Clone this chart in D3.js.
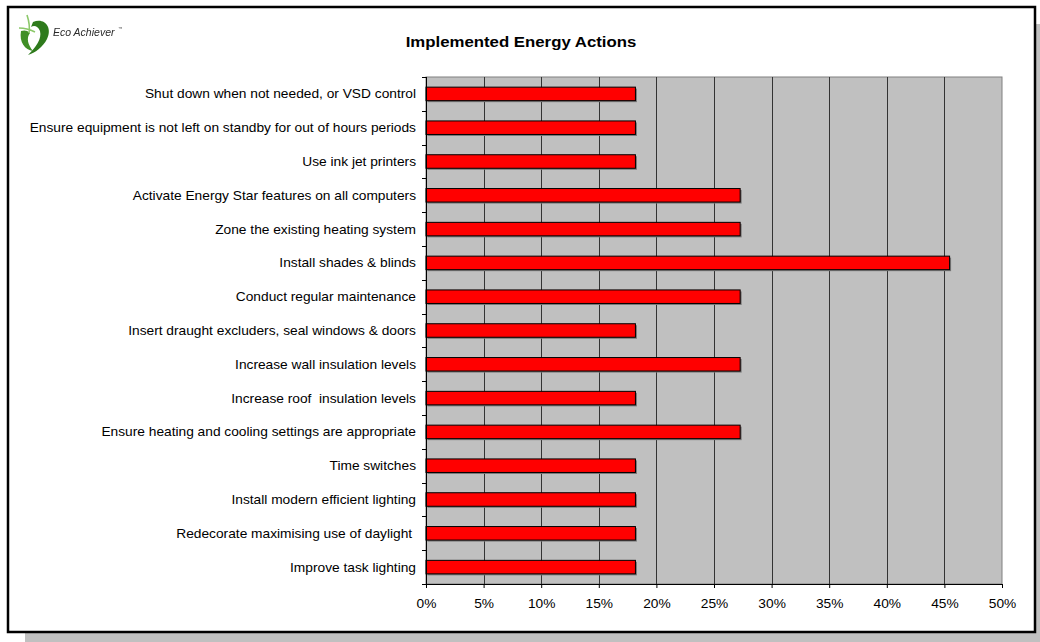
<!DOCTYPE html>
<html>
<head>
<meta charset="utf-8">
<script src="https://cdn.jsdelivr.net/npm/d3@7"></script>
<style>
  html, body { margin: 0; padding: 0; background: #fff; }
  svg { display: block; font-family: Arial, "Liberation Sans", sans-serif; }
</style>
</head>
<body>
<svg id="chart" width="1040" height="642"></svg>
<script>
// Share of sites that implemented each energy action (top to bottom)
const actions = [
  "Shut down when not needed, or VSD control",
  "Ensure equipment is not left on standby for out of hours periods",
  "Use ink jet printers",
  "Activate Energy Star features on all computers",
  "Zone the existing heating system",
  "Install shades & blinds",
  "Conduct regular maintenance",
  "Insert draught excluders, seal windows & doors",
  "Increase wall insulation levels",
  "Increase roof  insulation levels",
  "Ensure heating and cooling settings are appropriate",
  "Time switches",
  "Install modern efficient lighting",
  "Redecorate maximising use of daylight ",
  "Improve task lighting"
];
const shares = [
  0.1818, 0.1818, 0.1818, 0.2727, 0.2727, 0.4545, 0.2727, 0.1818,
  0.2727, 0.1818, 0.2727, 0.1818, 0.1818, 0.1818, 0.1818
];
const xTicks = [0, 0.05, 0.10, 0.15, 0.20, 0.25, 0.30, 0.35, 0.40, 0.45, 0.50];
const title = "Implemented Energy Actions";

const svg = d3.select("#chart");
const defs = svg.append("defs");
defs.append("filter").attr("id", "soft")
  .append("feGaussianBlur").attr("stdDeviation", 0.6);

// Card shadow and frame
svg.append("rect").attr("x", 25).attr("y", 24).attr("width", 1015).attr("height", 618).attr("fill", "#c0c0c0");
svg.append("rect").attr("x", 8).attr("y", 7).attr("width", 1027).attr("height", 625)
  .attr("fill", "#fff").attr("stroke", "#000").attr("stroke-width", 2.5);

// Logo: leaf swirl mark and wordmark
const logo = svg.append("g").attr("filter", "url(#soft)");
logo.append("path")
  .attr("d", "M33,22 C44,17 53,27 47,39 C43,47 35,53 28,55 C36,47 42,39 40,31 C38,26 34,25 31,27 Z")
  .attr("fill", "#2e7a1c");
logo.append("path")
  .attr("d", "M21,31 C19,42 25,50 33,51 C28,45 26,38 30,33 C27,30 24,30 21,31 Z")
  .attr("fill", "#3f8f25");
logo.append("path")
  .attr("d", "M27,15 C29,21 30,27 29,33 M19,28 C25,28 31,30 35,32")
  .attr("fill", "none").attr("stroke", "#8cc86a").attr("stroke-width", 1.6);
logo.append("text").attr("x", 53).attr("y", 36)
  .attr("font-size", 10.5).attr("font-style", "italic").attr("fill", "#2a2a2a")
  .text("Eco Achiever");
logo.append("text").attr("x", 118).attr("y", 30)
  .attr("font-size", 4.5).attr("fill", "#555").text("™");

// Title
svg.append("g").attr("transform", "translate(521,47) scale(1.12,1)")
  .append("text").attr("text-anchor", "middle")
  .attr("font-size", 15).attr("font-weight", "bold").attr("fill", "#000")
  .text(title);

// Plot area
const m = { left: 426, right: 1002, top: 77, bottom: 584 };
const x = d3.scaleLinear().domain([0, 0.5]).range([m.left, m.right]);
const y = d3.scaleBand().domain(actions).range([m.top, m.bottom]).paddingInner(0.6).paddingOuter(0.3);

svg.append("rect").attr("x", m.left).attr("y", m.top)
  .attr("width", m.right - m.left).attr("height", m.bottom - m.top)
  .attr("fill", "#c0c0c0").attr("stroke", "#808080").attr("stroke-width", 1);

// Vertical gridlines
svg.append("g").selectAll("line").data(xTicks.slice(1, -1)).join("line")
  .attr("x1", d => Math.round(x(d)) + 0.5).attr("x2", d => Math.round(x(d)) + 0.5)
  .attr("y1", m.top).attr("y2", m.bottom)
  .attr("stroke", "#333").attr("stroke-width", 1);

// Bars with a soft drop shadow
const bars = svg.append("g");
bars.selectAll("rect.sh").data(shares).join("rect").attr("class", "sh")
  .attr("x", x(0) + 1.5).attr("y", (d, i) => y(actions[i]) + 1.5)
  .attr("width", d => x(d) - x(0)).attr("height", y.bandwidth())
  .attr("fill", "#777");
bars.selectAll("rect.bar").data(shares).join("rect").attr("class", "bar")
  .attr("x", x(0)).attr("y", (d, i) => y(actions[i]))
  .attr("width", d => x(d) - x(0)).attr("height", y.bandwidth())
  .attr("fill", "#ff0000").attr("stroke", "#000").attr("stroke-width", 1);

// Y axis: line, ticks between categories, labels
const yAxis = svg.append("g");
yAxis.append("line").attr("x1", m.left + 0.5).attr("x2", m.left + 0.5)
  .attr("y1", m.top).attr("y2", m.bottom).attr("stroke", "#000");
yAxis.selectAll("line.t").data(d3.range(actions.length + 1)).join("line").attr("class", "t")
  .attr("x1", m.left - 4).attr("x2", m.left)
  .attr("y1", i => Math.round(m.top + i * (m.bottom - m.top) / actions.length) + 0.5)
  .attr("y2", i => Math.round(m.top + i * (m.bottom - m.top) / actions.length) + 0.5)
  .attr("stroke", "#000");
yAxis.selectAll("g.lab").data(actions).join("g").attr("class", "lab")
  .attr("transform", d => `translate(416,${y(d) + y.bandwidth() / 2}) scale(1.1,1)`)
  .append("text")
  .attr("dy", "0.36em").attr("text-anchor", "end")
  .attr("font-size", 12.5).attr("fill", "#000")
  .attr("xml:space", "preserve")
  .text(d => d);

// X axis
const xAxis = svg.append("g").attr("transform", `translate(0,${m.bottom})`)
  .call(d3.axisBottom(x).tickValues(xTicks).tickFormat(d3.format(".0%")).tickSize(4).tickPadding(11));
xAxis.select(".domain").attr("stroke", "#000");
xAxis.selectAll(".tick line").attr("stroke", "#000");
xAxis.selectAll(".tick text").attr("font-size", 12.5).attr("fill", "#000")
  .attr("font-family", "Arial, 'Liberation Sans', sans-serif")
  .attr("transform", "scale(1.1,1)");
</script>
</body>
</html>
